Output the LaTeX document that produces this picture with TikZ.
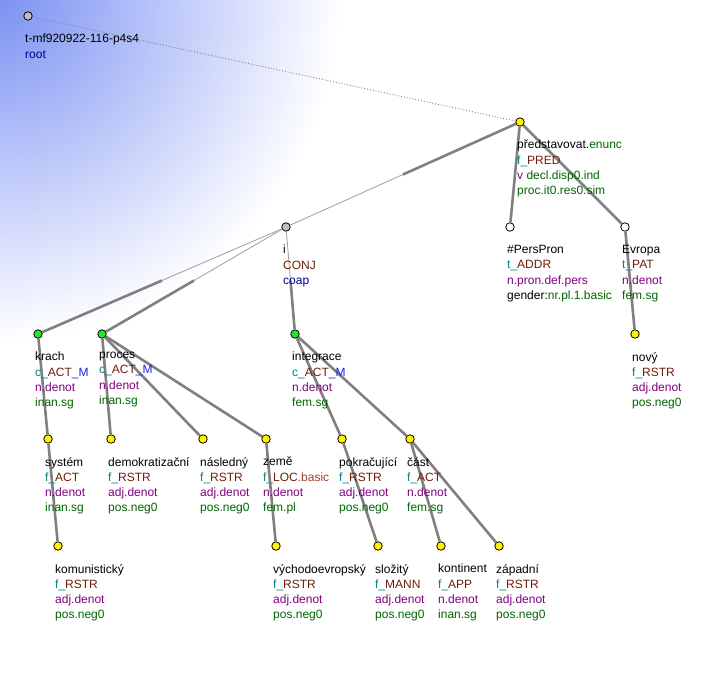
\documentclass[tikz,border=0pt]{standalone}
\usepackage{fontspec}
\setmainfont{Liberation Sans}
\usetikzlibrary{calc}
\definecolor{bgblue}{RGB}{124,146,243}
\definecolor{fcol}{RGB}{0,128,128}
\definecolor{frole}{RGB}{110,30,10}
\definecolor{fbasic}{RGB}{170,60,40}
\definecolor{fsub}{RGB}{30,30,235}
\definecolor{semcol}{RGB}{128,0,128}
\definecolor{gramcol}{RGB}{0,100,0}
\definecolor{rootcol}{RGB}{0,0,139}
\definecolor{coordgreen}{RGB}{40,230,40}
\definecolor{edgegray}{RGB}{128,128,128}
\newcommand{\fctr}[2]{\textcolor{fcol}{#1\_}\textcolor{frole}{#2}}
\newcommand{\sem}[1]{\textcolor{semcol}{#1}}
\newcommand{\gram}[1]{\textcolor{gramcol}{#1}}
\tikzset{
  tnode/.style={ % image of a tree node
    circle, draw=black, line width=0.8pt,
    minimum size=8.5pt, inner sep=0pt, fill=yellow
  },
  cnode/.style={ % coordinated member
    tnode, fill=coordgreen
  },
  gnode/.style={ % root and coordination node
    tnode, fill=black!25
  },
  wnode/.style={ % generated node
    tnode, fill=white
  },
  lbl/.style={ % the text lines below a node
    anchor=north west, align=left, inner sep=0pt,
    font=\fontsize{12}{15.3}\selectfont,
    execute at begin node={\rule{0pt}{12pt}}
  },
  edge/.style={
    draw=edgegray, line width=2.6pt
  },
  thinedge/.style={
    draw=edgegray!70, line width=0.9pt
  },
  rootedge/.style={
    draw=edgegray, dotted, line width=0.9pt
  }
}
\begin{document}
\begin{tikzpicture}[x=1pt, y=-1pt]
  \useasboundingbox (0,0) rectangle (711,700);
  \begin{scope}
    \clip (0,0) rectangle (711,700);
    \shade[inner color=bgblue, outer color=white] (0,0) circle (340pt);
  \end{scope}

  \node[gnode] (root) at (28,16) {};
  \node[tnode] (pred) at (520,122) {};
  \node[wnode] (perspron) at (510,227) {};
  \node[wnode] (evropa) at (625,227) {};
  \node[tnode] (novy) at (635,334) {};
  \node[gnode] (conj) at (286,227) {};
  \node[cnode] (krach) at (38,334) {};
  \node[cnode] (proces) at (102,334) {};
  \node[cnode] (integrace) at (295,334) {};
  \node[tnode] (system) at (48,439) {};
  \node[tnode] (demokr) at (111,439) {};
  \node[tnode] (nasledny) at (203,439) {};
  \node[tnode] (zeme) at (266,439) {};
  \node[tnode] (pokrac) at (342,439) {};
  \node[tnode] (cast) at (410,439) {};
  \node[tnode] (komun) at (58,546) {};
  \node[tnode] (vychod) at (276,546) {};
  \node[tnode] (slozity) at (378,546) {};
  \node[tnode] (kontinent) at (441,546) {};
  \node[tnode] (zapadni) at (499,546) {};

  \draw[rootedge] (root) -- (pred);
  \draw[thinedge] (pred) -- (conj);
  \draw[edge] (pred) -- ($(pred)!.5!(conj)$);
  \draw[edge] (pred) -- (perspron);
  \draw[edge] (pred) -- (evropa);
  \draw[edge] (evropa) -- (novy);
  \draw[thinedge] (conj) -- (krach);
  \draw[edge] (krach) -- ($(krach)!.5!(conj)$);
  \draw[thinedge] (conj) -- (proces);
  \draw[edge] (proces) -- ($(proces)!.5!(conj)$);
  \draw[thinedge] (conj) -- (integrace);
  \draw[edge] (integrace) -- ($(integrace)!.5!(conj)$);
  \draw[edge] (krach) -- (system);
  \draw[edge] (system) -- (komun);
  \draw[edge] (proces) -- (demokr);
  \draw[edge] (proces) -- (nasledny);
  \draw[edge] (proces) -- (zeme);
  \draw[edge] (zeme) -- (vychod);
  \draw[edge] (integrace) -- (pokrac);
  \draw[edge] (integrace) -- (cast);
  \draw[edge] (pokrac) -- (slozity);
  \draw[edge] (cast) -- (kontinent);
  \draw[edge] (cast) -- (zapadni);

  \node[lbl] (root_text) at ($(root)+(-3,18)$) {t-mf920922-116-p4s4\\ \textcolor{rootcol}{root}};
  \node[lbl] (pred_text) at ($(pred)+(-3,18)$) {představovat.\gram{enunc}\\ \fctr{f}{PRED}\\ \sem{v} \gram{decl.disp0.ind}\\ \gram{proc.it0.res0.sim}};
  \node[lbl] (perspron_text) at ($(perspron)+(-3,18)$) {\#PersPron\\ \fctr{t}{ADDR}\\ \sem{n.pron.def.pers}\\ gender:\gram{nr.pl.1.basic}};
  \node[lbl] (evropa_text) at ($(evropa)+(-3,18)$) {Evropa\\ \fctr{t}{PAT}\\ \sem{n.denot}\\ \gram{fem.sg}};
  \node[lbl] (novy_text) at ($(novy)+(-3,18)$) {nový\\ \fctr{f}{RSTR}\\ \sem{adj.denot}\\ \gram{pos.neg0}};
  \node[lbl] (conj_text) at ($(conj)+(-3,18)$) {i\\ \textcolor{frole}{CONJ}\\ \textcolor{rootcol}{coap}};
  \node[lbl] (krach_text) at ($(krach)+(-3,18)$) {krach\\ \fctr{c}{ACT}\textcolor{fsub}{\_M}\\ \sem{n.denot}\\ \gram{inan.sg}};
  \node[lbl] (proces_text) at ($(proces)+(-3,18)$) {proces\\ \fctr{c}{ACT}\textcolor{fsub}{\_M}\\ \sem{n.denot}\\ \gram{inan.sg}};
  \node[lbl] (integrace_text) at ($(integrace)+(-3,18)$) {integrace\\ \fctr{c}{ACT}\textcolor{fsub}{\_M}\\ \sem{n.denot}\\ \gram{fem.sg}};
  \node[lbl] (system_text) at ($(system)+(-3,18)$) {systém\\ \fctr{f}{ACT}\\ \sem{n.denot}\\ \gram{inan.sg}};
  \node[lbl] (demokr_text) at ($(demokr)+(-3,18)$) {demokratizační\\ \fctr{f}{RSTR}\\ \sem{adj.denot}\\ \gram{pos.neg0}};
  \node[lbl] (nasledny_text) at ($(nasledny)+(-3,18)$) {následný\\ \fctr{f}{RSTR}\\ \sem{adj.denot}\\ \gram{pos.neg0}};
  \node[lbl] (zeme_text) at ($(zeme)+(-3,18)$) {země\\ \fctr{f}{LOC}\textcolor{fbasic}{.basic}\\ \sem{n.denot}\\ \gram{fem.pl}};
  \node[lbl] (pokrac_text) at ($(pokrac)+(-3,18)$) {pokračující\\ \fctr{f}{RSTR}\\ \sem{adj.denot}\\ \gram{pos.neg0}};
  \node[lbl] (cast_text) at ($(cast)+(-3,18)$) {část\\ \fctr{f}{ACT}\\ \sem{n.denot}\\ \gram{fem.sg}};
  \node[lbl] (komun_text) at ($(komun)+(-3,18)$) {komunistický\\ \fctr{f}{RSTR}\\ \sem{adj.denot}\\ \gram{pos.neg0}};
  \node[lbl] (vychod_text) at ($(vychod)+(-3,18)$) {východoevropský\\ \fctr{f}{RSTR}\\ \sem{adj.denot}\\ \gram{pos.neg0}};
  \node[lbl] (slozity_text) at ($(slozity)+(-3,18)$) {složitý\\ \fctr{f}{MANN}\\ \sem{adj.denot}\\ \gram{pos.neg0}};
  \node[lbl] (kontinent_text) at ($(kontinent)+(-3,18)$) {kontinent\\ \fctr{f}{APP}\\ \sem{n.denot}\\ \gram{inan.sg}};
  \node[lbl] (zapadni_text) at ($(zapadni)+(-3,18)$) {západní\\ \fctr{f}{RSTR}\\ \sem{adj.denot}\\ \gram{pos.neg0}};
\end{tikzpicture}
\end{document}
